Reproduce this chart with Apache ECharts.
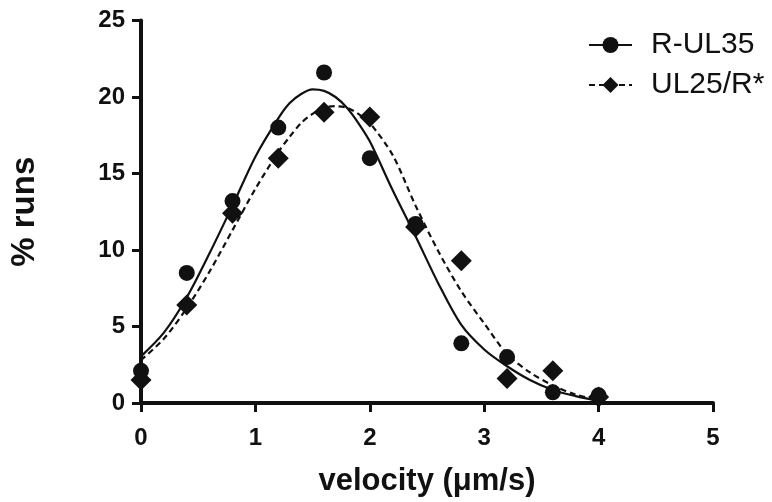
<!DOCTYPE html>
<html>
<head>
<meta charset="utf-8">
<script src="https://cdn.jsdelivr.net/npm/echarts@6/dist/echarts.min.js"></script>
<style>
html,body{margin:0;padding:0;background:#fff;}
#chart{width:772px;height:502px;}
</style>
</head>
<body>
<div id="chart"></div>
<script>
// Measured points
const velocities = [0, 0.4, 0.8, 1.2, 1.6, 2.0, 2.4, 2.8, 3.2, 3.6, 4.0];
const rUL35 = [2.1, 8.5, 13.2, 18.0, 21.6, 16.0, 11.7, 3.9, 3.0, 0.7, 0.5];
const ul25R = [1.5, 6.4, 12.4, 16.0, 19.0, 18.7, 11.5, 9.3, 1.6, 2.1, 0.4];

// Fitted curves
const curveX = [0, 0.2, 0.4, 0.6, 0.8, 1.0, 1.2, 1.3, 1.4, 1.5, 1.6, 1.7, 1.8, 1.9, 2.0, 2.2, 2.4, 2.6, 2.8, 3.0, 3.2, 3.4, 3.6, 3.8, 4.0];
const fitRUL35 = [3.05, 4.6, 6.9, 9.8, 12.9, 16.1, 18.6, 19.6, 20.2, 20.5, 20.4, 20.0, 19.3, 18.3, 17.1, 13.9, 10.9, 7.8, 5.1, 3.5, 2.4, 1.5, 0.85, 0.45, 0.15];
const fitUL25R = [2.8, 4.2, 6.2, 8.6, 11.3, 14.0, 16.4, 17.4, 18.3, 18.9, 19.3, 19.4, 19.3, 18.9, 18.3, 16.2, 12.9, 9.9, 7.3, 5.2, 3.2, 2.0, 1.15, 0.55, 0.2];

const seriesNames = ['R-UL35', 'UL25/R*'];
const xTicks = [0, 1, 2, 3, 4, 5];
const yTicks = [0, 5, 10, 15, 20, 25];

const pairs = (xs, ys) => xs.map((x, i) => [x, ys[i]]);
const ink = '#111111';
const font = '"Liberation Sans", Arial, sans-serif';

const chart = echarts.init(document.getElementById('chart'), null, {renderer: 'canvas'});
chart.setOption({
  backgroundColor: '#ffffff',
  animation: false,
  grid: {left: 136, right: 59, top: 20.5, bottom: 97.5, containLabel: false},
  legend: {
    orient: 'vertical',
    left: 588,
    top: 30,
    padding: 0,
    itemWidth: 43,
    itemHeight: 20,
    itemGap: 10,
    data: seriesNames,
    textStyle: {fontFamily: font, fontSize: 30, color: ink, padding: [0, 0, 0, 14]}
  },
  xAxis: {
    type: 'value',
    min: xTicks[0], max: xTicks[xTicks.length - 1], interval: 1,
    name: 'velocity (μm/s)',
    nameLocation: 'middle',
    nameGap: 63,
    nameTextStyle: {fontFamily: font, fontSize: 31, fontWeight: 'bold', color: ink},
    axisLine: {onZero: false, lineStyle: {color: ink, width: 4}},
    axisTick: {length: 9, lineStyle: {color: ink, width: 3}},
    axisLabel: {margin: 23, fontFamily: font, fontSize: 24, fontWeight: 'bold', color: ink},
    splitLine: {show: false}
  },
  yAxis: {
    type: 'value',
    min: yTicks[0], max: yTicks[yTicks.length - 1], interval: 5,
    name: '% runs',
    nameLocation: 'middle',
    nameGap: 100,
    nameTextStyle: {fontFamily: font, fontSize: 33, fontWeight: 'bold', color: ink},
    axisLine: {show: true, onZero: false, lineStyle: {color: ink, width: 4}},
    axisTick: {show: true, length: 9, lineStyle: {color: ink, width: 3}},
    axisLabel: {margin: 16, fontFamily: font, fontSize: 24, fontWeight: 'bold', color: ink},
    splitLine: {show: false}
  },
  series: [
    {
      name: seriesNames[0], type: 'line', data: pairs(curveX, fitRUL35),
      smooth: 0.3, showSymbol: false, symbol: 'circle', symbolSize: 13,
      lineStyle: {color: ink, width: 2.2, type: 'solid'},
      itemStyle: {color: ink}, z: 2
    },
    {
      name: seriesNames[1], type: 'line', data: pairs(curveX, fitUL25R),
      smooth: 0.3, showSymbol: false, symbol: 'diamond', symbolSize: 15,
      lineStyle: {color: ink, width: 2.2, type: [6, 4]},
      itemStyle: {color: ink}, z: 2
    },
    {
      name: seriesNames[0], type: 'scatter', data: pairs(velocities, rUL35),
      symbol: 'circle', symbolSize: 16, itemStyle: {color: ink, opacity: 1}, z: 3
    },
    {
      name: seriesNames[1], type: 'scatter', data: pairs(velocities, ul25R),
      symbol: 'diamond', symbolSize: 21, itemStyle: {color: ink, opacity: 1}, z: 3
    }
  ]
});
</script>
</body>
</html>
